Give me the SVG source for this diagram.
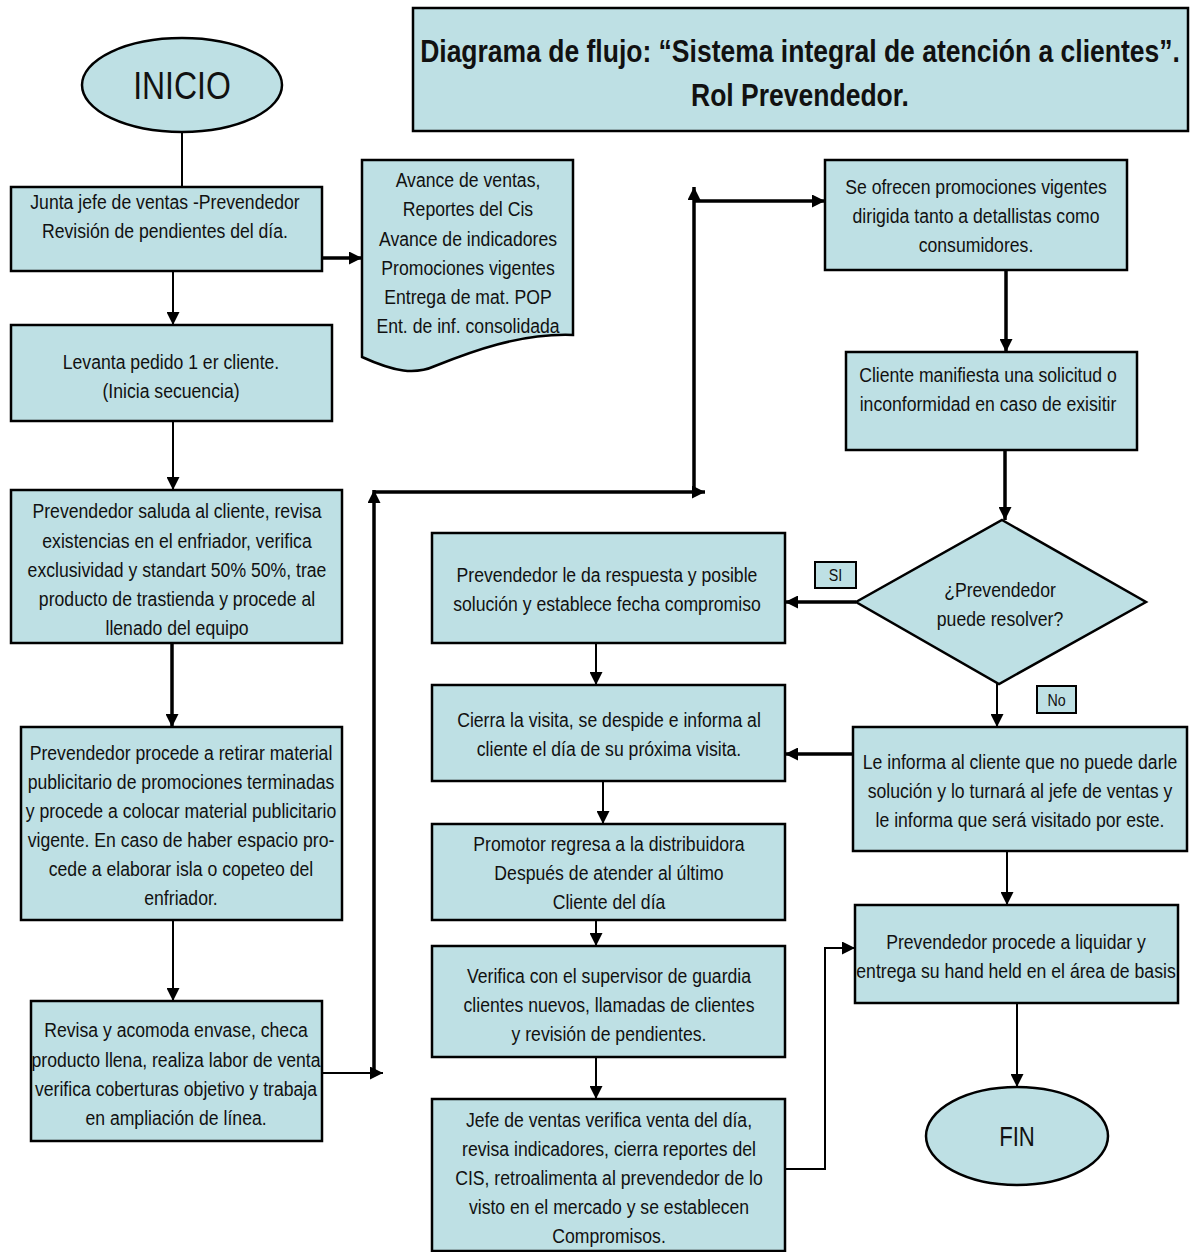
<svg xmlns="http://www.w3.org/2000/svg" width="1193" height="1252" viewBox="0 0 1193 1252">
  <style>
    .box { fill: #bee0e4; stroke: #000; stroke-width: 2.5; }
    .lbl { fill: #bee0e4; stroke: #000; stroke-width: 2; }
    text { font-family: "Liberation Sans", Arial, sans-serif; font-size: 21px; fill: #111; text-anchor: middle; }
    .title { font-weight: bold; font-size: 31px; }
    .term { font-size: 39px; }
    .fin { font-size: 27px; }
    .tag { font-size: 17px; }
    .c { fill: none; stroke: #000; stroke-width: 2; }
    .ct { fill: none; stroke: #000; stroke-width: 3.5; }
  </style>
  <defs>
    <marker id="ah" viewBox="0 0 10 10" refX="10" refY="5" markerUnits="userSpaceOnUse" markerWidth="14" markerHeight="13" orient="auto">
      <path d="M0,0 L10,5 L0,10 z" fill="#000"/>
    </marker>
  </defs>

  <!-- title (narrow lettering: horizontal squeeze) -->
  <g id="title">
    <rect class="box" x="413" y="8" width="775" height="123"/>
    <g transform="translate(800,0) scale(0.855,1)">
      <text class="title" x="0" y="62">Diagrama de flujo: “Sistema integral de atención a clientes”.</text>
      <text class="title" x="0" y="106">Rol Prevendedor.</text>
    </g>
  </g>

  <!-- connectors -->
  <g id="connectors">
    <path class="c" d="M182,132 V187"/>
    <path class="ct" d="M322,258 H362" marker-end="url(#ah)"/>
    <path class="c" d="M173,271 V325" marker-end="url(#ah)"/>
    <path class="c" d="M173,421 V490" marker-end="url(#ah)"/>
    <path class="ct" d="M172,643 V727" marker-end="url(#ah)"/>
    <path class="c" d="M173,920 V1001" marker-end="url(#ah)"/>
    <path class="c" d="M322,1073 H383" marker-end="url(#ah)"/>
    <path class="ct" d="M374,1073 V490" marker-end="url(#ah)"/>
    <path class="ct" d="M374,492 H705" marker-end="url(#ah)"/>
    <path class="ct" d="M694,492 V187" marker-end="url(#ah)"/>
    <path class="ct" d="M694,201 H825" marker-end="url(#ah)"/>
    <path class="ct" d="M1006,270 V352" marker-end="url(#ah)"/>
    <path class="ct" d="M1005,450 V520" marker-end="url(#ah)"/>
    <path class="ct" d="M856,602 H785" marker-end="url(#ah)"/>
    <path class="c" d="M997,684 V727" marker-end="url(#ah)"/>
    <path class="c" d="M596,643 V685" marker-end="url(#ah)"/>
    <path class="ct" d="M853,754 H785" marker-end="url(#ah)"/>
    <path class="c" d="M603,781 V824" marker-end="url(#ah)"/>
    <path class="c" d="M1007,851 V905" marker-end="url(#ah)"/>
    <path class="c" d="M596,920 V946" marker-end="url(#ah)"/>
    <path class="c" d="M596,1057 V1099" marker-end="url(#ah)"/>
    <path class="c" d="M785,1169 H825 V948 H855" marker-end="url(#ah)"/>
    <path class="c" d="M1017,1003 V1087" marker-end="url(#ah)"/>
  </g>

  <g id="inicio">
    <ellipse class="box" cx="182" cy="85" rx="100" ry="47"/>
    <g transform="translate(182,0) scale(0.82,1)">
      <text class="term" x="0" y="99">INICIO</text>
    </g>
  </g>

  <g id="junta">
    <rect class="box" x="11" y="187" width="311" height="84"/>
    <g transform="translate(165,0) scale(0.84,1)">
      <text x="0" y="209">Junta jefe de ventas -Prevendedor</text>
      <text x="0" y="238">Revisión de pendientes del día.</text>
    </g>
  </g>

  <g id="documentos">
    <path class="box" d="M362,160 H573 V335 C520,333 470,352 435,366 C415,375 395,372 362,357 Z"/>
    <g transform="translate(468,0) scale(0.84,1)">
      <text x="0" y="187">Avance de ventas,</text>
      <text x="0" y="216">Reportes del Cis</text>
      <text x="0" y="246">Avance de indicadores</text>
      <text x="0" y="275">Promociones vigentes</text>
      <text x="0" y="304">Entrega de mat. POP</text>
      <text x="0" y="333">Ent. de inf. consolidada</text>
    </g>
  </g>

  <g id="levanta">
    <rect class="box" x="11" y="325" width="321" height="96"/>
    <g transform="translate(171,0) scale(0.84,1)">
      <text x="0" y="369">Levanta pedido 1 er cliente.</text>
      <text x="0" y="398">(Inicia secuencia)</text>
    </g>
  </g>

  <g id="saluda">
    <rect class="box" x="11" y="490" width="331" height="153"/>
    <g transform="translate(177,0) scale(0.84,1)">
      <text x="0" y="518">Prevendedor saluda al cliente, revisa</text>
      <text x="0" y="548">existencias en el enfriador, verifica</text>
      <text x="0" y="577">exclusividad y standart 50% 50%, trae</text>
      <text x="0" y="606">producto de trastienda y procede al</text>
      <text x="0" y="635">llenado del equipo</text>
    </g>
  </g>

  <g id="retirar">
    <rect class="box" x="21" y="727" width="321" height="193"/>
    <g transform="translate(181,0) scale(0.84,1)">
      <text x="0" y="760">Prevendedor procede a retirar material</text>
      <text x="0" y="789">publicitario de promociones terminadas</text>
      <text x="0" y="818">y procede a colocar material publicitario</text>
      <text x="0" y="847">vigente. En caso de haber espacio pro-</text>
      <text x="0" y="876">cede a elaborar isla o copeteo del</text>
      <text x="0" y="905">enfriador.</text>
    </g>
  </g>

  <g id="acomoda">
    <rect class="box" x="31" y="1001" width="291" height="140"/>
    <g transform="translate(176,0) scale(0.84,1)">
      <text x="0" y="1037">Revisa y acomoda envase, checa</text>
      <text x="0" y="1067">producto llena, realiza labor de venta</text>
      <text x="0" y="1096">verifica coberturas objetivo y trabaja</text>
      <text x="0" y="1125">en ampliación de línea.</text>
    </g>
  </g>

  <g id="promociones">
    <rect class="box" x="825" y="160" width="302" height="110"/>
    <g transform="translate(976,0) scale(0.84,1)">
      <text x="0" y="194">Se ofrecen promociones vigentes</text>
      <text x="0" y="223">dirigida tanto a detallistas como</text>
      <text x="0" y="252">consumidores.</text>
    </g>
  </g>

  <g id="solicitud">
    <rect class="box" x="846" y="352" width="291" height="98"/>
    <g transform="translate(988,0) scale(0.84,1)">
      <text x="0" y="382">Cliente manifiesta una solicitud o</text>
      <text x="0" y="411">inconformidad en caso de exisitir</text>
    </g>
  </g>

  <g id="decision">
    <path class="box" d="M1002,520 L1146,602 L999,684 L856,602 Z"/>
    <g transform="translate(1000,0) scale(0.84,1)">
      <text x="0" y="597">¿Prevendedor</text>
      <text x="0" y="626">puede resolver?</text>
    </g>
  </g>

  <g id="label-si">
    <rect class="lbl" x="815" y="562" width="41" height="26"/>
    <g transform="translate(835.5,0) scale(0.84,1)">
      <text class="tag" x="0" y="581">SI</text>
    </g>
  </g>

  <g id="label-no">
    <rect class="lbl" x="1037" y="686" width="39" height="27"/>
    <g transform="translate(1056.5,0) scale(0.84,1)">
      <text class="tag" x="0" y="706">No</text>
    </g>
  </g>

  <g id="respuesta">
    <rect class="box" x="432" y="533" width="353" height="110"/>
    <g transform="translate(607,0) scale(0.84,1)">
      <text x="0" y="582">Prevendedor le da respuesta y posible</text>
      <text x="0" y="611">solución y establece fecha compromiso</text>
    </g>
  </g>

  <g id="cierra">
    <rect class="box" x="432" y="685" width="353" height="96"/>
    <g transform="translate(609,0) scale(0.84,1)">
      <text x="0" y="727">Cierra la visita, se despide e informa al</text>
      <text x="0" y="756">cliente el día de su próxima visita.</text>
    </g>
  </g>

  <g id="turnara">
    <rect class="box" x="853" y="727" width="334" height="124"/>
    <g transform="translate(1020,0) scale(0.84,1)">
      <text x="0" y="769">Le informa al cliente que no puede darle</text>
      <text x="0" y="798">solución y lo turnará al jefe de ventas y</text>
      <text x="0" y="827">le informa que será visitado por este.</text>
    </g>
  </g>

  <g id="regresa">
    <rect class="box" x="432" y="824" width="353" height="96"/>
    <g transform="translate(609,0) scale(0.84,1)">
      <text x="0" y="851">Promotor regresa a la distribuidora</text>
      <text x="0" y="880">Después de atender al último</text>
      <text x="0" y="909">Cliente del día</text>
    </g>
  </g>

  <g id="supervisor">
    <rect class="box" x="432" y="946" width="353" height="111"/>
    <g transform="translate(609,0) scale(0.84,1)">
      <text x="0" y="983">Verifica con el supervisor de guardia</text>
      <text x="0" y="1012">clientes nuevos, llamadas de clientes</text>
      <text x="0" y="1041">y revisión de pendientes.</text>
    </g>
  </g>

  <g id="jefe">
    <rect class="box" x="432" y="1099" width="353" height="152"/>
    <g transform="translate(609,0) scale(0.84,1)">
      <text x="0" y="1127">Jefe de ventas verifica venta del día,</text>
      <text x="0" y="1156">revisa indicadores, cierra reportes del</text>
      <text x="0" y="1185">CIS, retroalimenta al prevendedor de lo</text>
      <text x="0" y="1214">visto en el mercado y se establecen</text>
      <text x="0" y="1243">Compromisos.</text>
    </g>
  </g>

  <g id="liquidar">
    <rect class="box" x="855" y="905" width="323" height="98"/>
    <g transform="translate(1016,0) scale(0.84,1)">
      <text x="0" y="949">Prevendedor procede a liquidar y</text>
      <text x="0" y="978">entrega su hand held en el área de basis</text>
    </g>
  </g>

  <g id="fin">
    <ellipse class="box" cx="1017" cy="1136" rx="91" ry="49"/>
    <g transform="translate(1017,0) scale(0.82,1)">
      <text class="fin" x="0" y="1146">FIN</text>
    </g>
  </g>
</svg>
